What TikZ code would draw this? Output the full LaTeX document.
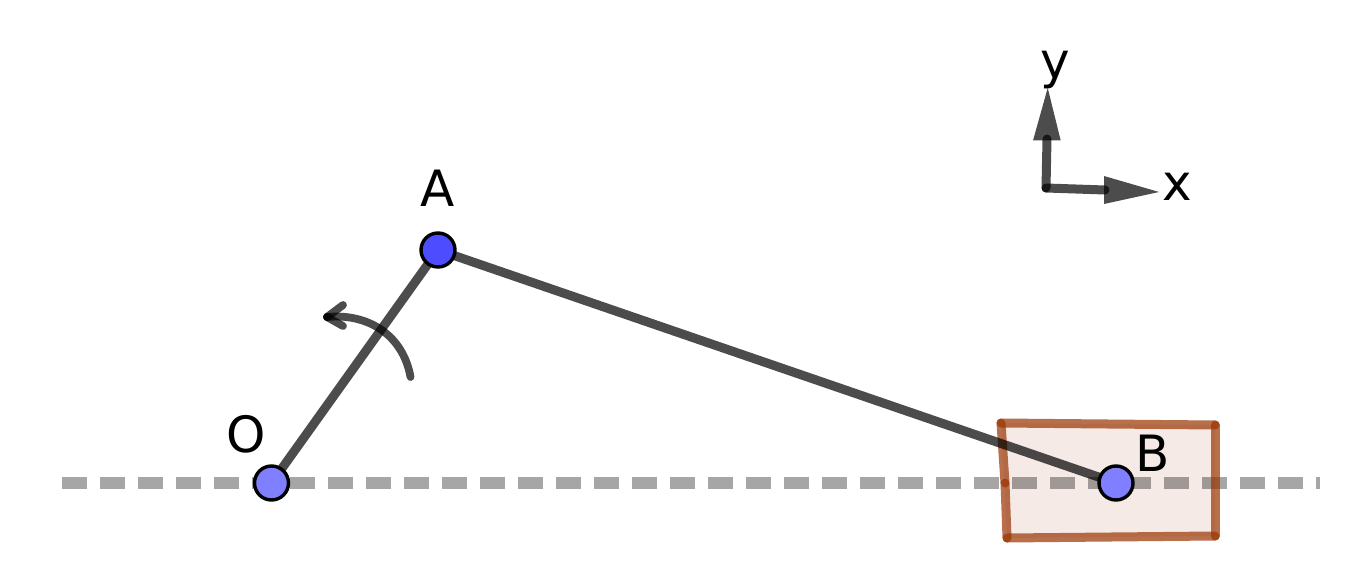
\documentclass[tikz,border=0pt]{standalone}
\usepackage{fontspec}
\setmainfont{DejaVu Sans}
\usetikzlibrary{backgrounds}
\tikzset{
  joint/.style={circle,draw=black,line width=3.4pt,minimum size=34pt,inner sep=0pt},
  lab/.style={anchor=base,inner sep=0pt,font=\fontsize{50}{50}\selectfont},
  rod/.style={draw=black,draw opacity=.7,line width=9pt,line cap=round},
  thin rod/.style={draw=black,draw opacity=.7,line width=7.8pt,line cap=round},
  track/.style={draw=black,draw opacity=.35,line width=12pt,dash pattern=on 25pt off 13pt},
  wall/.style={draw=brownc,draw opacity=.7,line width=9pt,line cap=round},
  head/.style={fill=black,fill opacity=.7,draw=none},
}
\definecolor{brownc}{HTML}{993300}
\definecolor{jointa}{HTML}{4D4DFF}
\definecolor{jointb}{HTML}{7F7FFF}
\begin{document}
\begin{tikzpicture}[x=1pt,y=-1pt]
\useasboundingbox (0,0) rectangle (1372,577);
\node[joint,fill=jointb] (O) at (271.5,483) {};
\node[joint,fill=jointa] (A) at (438,250) {};
\node[joint,fill=jointb] (B) at (1116,483) {};
\node[lab] (lO) at (246,452) {O};
\node[lab] (lA) at (437.5,207) {A};
\node[lab] (lB) at (1152.5,471) {B};
\node[lab] (lx) at (1177.5,201) {x};
\node[lab] (ly) at (1055.5,79) {y};
\coordinate (c1) at (1001,423);
\coordinate (c2) at (1215,425);
\coordinate (c3) at (1215,536);
\coordinate (c4) at (1007,538);
\coordinate (cm) at (1005,483);
\coordinate (t0) at (62,483);
\coordinate (t1) at (1320,483);
\coordinate (org) at (1046,188);
\coordinate (xend) at (1105,190);
\coordinate (yend) at (1047,139);
\coordinate (as) at (410.5,377);
\coordinate (ae) at (327,317);
\begin{pgfonlayer}{background}
  \fill[brownc,fill opacity=.1] (c1) -- (c2) -- (c3) -- (c4) -- cycle;
  \draw[track] (t0) -- (t1);
  \draw[wall] (c1) -- (c2);
  \draw[wall] (c2) -- (c3);
  \draw[wall] (c3) -- (c4);
  \draw[wall] (c4) -- (cm);
  \draw[wall] (cm) -- (c1);
  \draw[rod] (O.center) -- (A.center);
  \draw[rod] (A.center) -- (B.center);
  \fill[head] (1047.7,88) -- (1033,140.5) -- (1060.7,140.5) -- cycle;
  \fill[head] (1159,192) -- (1104,176) -- (1104,204) -- cycle;
  \draw[rod] (org) -- (yend);
  \draw[rod] (org) -- (xend);
  \draw[thin rod] (as) .. controls (403,335) and (368,313) .. (ae);
  \draw[thin rod] (ae) -- (343,305);
  \draw[thin rod] (ae) -- (343,326);
\end{pgfonlayer}
\end{tikzpicture}
\end{document}
